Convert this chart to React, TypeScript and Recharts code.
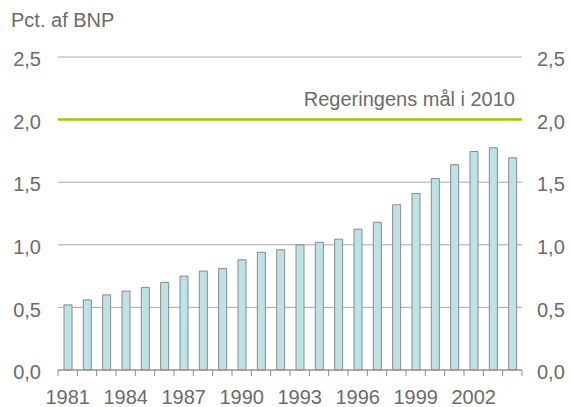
import React from 'react';
import {
  ComposedChart,
  Bar,
  Line,
  XAxis,
  YAxis,
  CartesianGrid,
  ReferenceLine,
} from 'recharts';

const years = [
  '1981', '1982', '1983', '1984', '1985', '1986', '1987', '1988',
  '1989', '1990', '1991', '1992', '1993', '1994', '1995', '1996',
  '1997', '1998', '1999', '2000', '2001', '2002', '2003', '2004',
];
const shares = [
  0.52, 0.56, 0.6, 0.63, 0.66, 0.7, 0.75, 0.79,
  0.81, 0.88, 0.94, 0.96, 1.0, 1.02, 1.045, 1.125,
  1.18, 1.32, 1.41, 1.53, 1.64, 1.745, 1.775, 1.695,
];
const yTicks = [0, 0.5, 1, 1.5, 2, 2.5];
const targetValue = 2.0;
const targetLabel = 'Regeringens mål i 2010';
const unitLabel = 'Pct. af BNP';

const W = 570;
const H = 407;
const LEFT_W = 58;
const RIGHT_W = 48;
const TOP = 57;
const XAXIS_H = 37;
const TEXT = '#6b6b6b';
const FONT = '"Liberation Sans", Arial, sans-serif';
const FS = 20;

const data = years.map((year, i) => ({ year, value: shares[i] }));

const fmt = (v: number) => v.toFixed(1).replace('.', ',');

// tick marks sit between the bars, labels every third year
const YearTick = (props: any) => {
  const { x, y, payload } = props;
  const index = props.index ?? payload.index;
  const band = (W - LEFT_W - RIGHT_W) / years.length;
  const isLast = index === years.length - 1;
  return (
    <g>
      <line x1={x - band / 2} y1={y} x2={x - band / 2} y2={y + 6} stroke="#8c8c8c" />
      {isLast && <line x1={x + band / 2} y1={y} x2={x + band / 2} y2={y + 6} stroke="#8c8c8c" />}
      {index % 3 === 0 && (
        <text x={x} y={y + 34} textAnchor="middle" fill={TEXT} fontSize={FS} fontFamily={FONT}>
          {payload.value}
        </text>
      )}
    </g>
  );
};

const TargetLabel = (props: any) => {
  const { viewBox } = props;
  return (
    <text
      x={viewBox.x + viewBox.width - 7}
      y={viewBox.y - 14}
      textAnchor="end"
      fill={TEXT}
      fontSize={FS}
      fontFamily={FONT}
    >
      {targetLabel}
    </text>
  );
};

export default function App() {
  return (
    <div style={{ position: 'absolute', left: 0, top: 0, width: W, height: H, background: '#fff', fontFamily: FONT }}>
      <div style={{ position: 'absolute', left: 11, top: 10, fontSize: FS, color: TEXT, lineHeight: 1 }}>
        {unitLabel}
      </div>
      <ComposedChart
        width={W}
        height={H}
        data={data}
        margin={{ top: TOP, right: 0, left: 0, bottom: 0 }}
        barCategoryGap={0}
      >
        <CartesianGrid yAxisId="left" horizontal vertical={false} stroke="#a8a8a8" />
        <XAxis
          dataKey="year"
          height={XAXIS_H}
          interval={0}
          tickSize={0}
          tickMargin={0}
          tickLine={false}
          axisLine={{ stroke: '#8c8c8c' }}
          tick={<YearTick />}
        />
        <YAxis
          yAxisId="left"
          width={LEFT_W}
          domain={[0, 2.5]}
          ticks={yTicks}
          tickFormatter={fmt}
          axisLine={false}
          tickLine={false}
          tickSize={0}
          tickMargin={17}
          tick={{ fill: TEXT, fontSize: FS, fontFamily: FONT, dy: 2 }}
        />
        <YAxis
          yAxisId="right"
          orientation="right"
          width={RIGHT_W}
          domain={[0, 2.5]}
          ticks={yTicks}
          tickFormatter={fmt}
          axisLine={false}
          tickLine={false}
          tickSize={0}
          tickMargin={15}
          tick={{ fill: TEXT, fontSize: FS, fontFamily: FONT, dy: 2 }}
        />
        <Bar
          yAxisId="left"
          dataKey="value"
          fill="#bde2e4"
          stroke="#8a8a8a"
          strokeWidth={1}
          barSize={8}
          isAnimationActive={false}
        />
        {/* invisible series so the right axis gets drawn */}
        <Line
          yAxisId="right"
          dataKey="value"
          stroke="none"
          dot={false}
          activeDot={false}
          legendType="none"
          isAnimationActive={false}
        />
        <ReferenceLine
          yAxisId="left"
          y={targetValue}
          stroke="#99cc00"
          strokeWidth={2.5}
          label={<TargetLabel />}
        />
      </ComposedChart>
    </div>
  );
}
